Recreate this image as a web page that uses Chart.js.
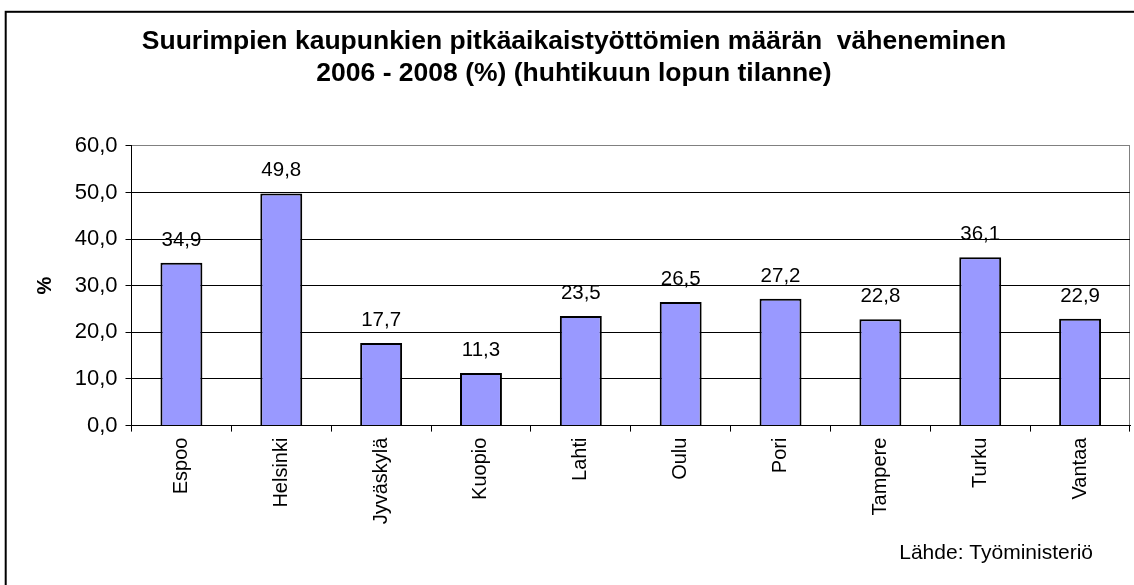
<!DOCTYPE html>
<html lang="fi">
<head>
<meta charset="utf-8">
<title>Pitkäaikaistyöttömien määrän väheneminen</title>
<script src="https://cdn.jsdelivr.net/npm/chart.js@4.4.1/dist/chart.umd.min.js"></script>
<style>
  html, body { margin: 0; padding: 0; background: #fff; }
</style>
</head>
<body>
<canvas id="decreaseChart" width="1134" height="585"></canvas>
<script>
// data
const cities = ["Espoo", "Helsinki", "Jyväskylä", "Kuopio", "Lahti", "Oulu", "Pori", "Tampere", "Turku", "Vantaa"];
const decrease = [34.9, 49.8, 17.7, 11.3, 23.5, 26.5, 27.2, 22.8, 36.1, 22.9];
const yTickLabels = ["0,0", "10,0", "20,0", "30,0", "40,0", "50,0", "60,0"];
const titleLines = [
  "Suurimpien kaupunkien pitkäaikaistyöttömien määrän  väheneminen",
  "2006 - 2008 (%) (huhtikuun lopun tilanne)"
];
const yAxisTitle = "%";
const sourceNote = "Lähde: Työministeriö";

const FONT = "'Liberation Sans', Arial, sans-serif";

// finnish number format, 34.9 -> "34,9"
const fmt = v => v.toFixed(1).replace(".", ",");

// outer frame, value labels above bars and the source line
const decorations = {
  id: "decorations",
  beforeDraw(chart) {
    const ctx = chart.ctx;
    ctx.save();
    ctx.fillStyle = "#fff";
    ctx.fillRect(0, 0, chart.width, chart.height);
    ctx.strokeStyle = "#000";
    ctx.lineWidth = 2;
    ctx.strokeRect(5.7, 11.8, chart.width + 50, chart.height + 50);
    ctx.restore();
  },
  afterDatasetsDraw(chart) {
    const ctx = chart.ctx;
    const meta = chart.getDatasetMeta(0);
    ctx.save();
    ctx.font = "20.5px " + FONT;
    ctx.fillStyle = "#000";
    ctx.textAlign = "center";
    ctx.textBaseline = "alphabetic";
    meta.data.forEach((bar, i) => {
      ctx.fillText(fmt(decrease[i]), bar.x, bar.y - 17);
    });
    ctx.restore();
  },
  afterDraw(chart) {
    const ctx = chart.ctx;
    ctx.save();
    ctx.font = "21px " + FONT;
    ctx.fillStyle = "#000";
    ctx.textAlign = "right";
    ctx.textBaseline = "alphabetic";
    ctx.fillText(sourceNote, 1093, 559);
    ctx.restore();
  }
};

new Chart(document.getElementById("decreaseChart"), {
  type: "bar",
  data: {
    labels: cities,
    datasets: [{
      data: decrease,
      backgroundColor: "#9999FF",
      borderColor: "#000",
      borderWidth: 2,
      barPercentage: 0.42,
      categoryPercentage: 1
    }]
  },
  options: {
    responsive: false,
    animation: false,
    devicePixelRatio: 1,
    events: [],
    layout: { padding: { left: 18, right: 4, top: 0, bottom: 0 } },
    plugins: {
      legend: { display: false },
      tooltip: { enabled: false },
      title: {
        display: true,
        text: titleLines,
        color: "#000",
        font: { family: FONT, size: 26.5, weight: "bold", lineHeight: 1.18 },
        padding: { top: 26.3, bottom: 57 }
      }
    },
    scales: {
      x: {
        offset: true,
        grid: {
          offset: true,
          drawOnChartArea: true,
          // only the closing line on the right is visible, in grey
          color: c => (c.type === "tick" ? "rgba(0,0,0,0)" : "#808080"),
          tickColor: "#000",
          tickLength: 6
        },
        border: { color: "#000", width: 1 },
        ticks: {
          color: "#000",
          font: { family: FONT, size: 20 },
          minRotation: 90,
          maxRotation: 90,
          autoSkip: false,
          padding: 6
        },
        afterFit: s => { s.height = 585 - 425.6; }
      },
      y: {
        min: 0,
        max: 60,
        grid: {
          color: c => (c.tick && c.tick.value === 60 ? "#808080" : "#000"),
          tickColor: "#000",
          tickLength: 6
        },
        border: { color: "#000", width: 1 },
        ticks: {
          stepSize: 10,
          color: "#000",
          font: { family: FONT, size: 22 },
          padding: 8,
          callback: (v, i) => yTickLabels[i]
        },
        title: {
          display: true,
          text: yAxisTitle,
          color: "#000",
          font: { family: FONT, size: 20, weight: "bold" },
          padding: { top: 15 }
        },
        afterFit: s => { s.width = 113.5; }
      }
    }
  },
  plugins: [decorations]
});
</script>
</body>
</html>
